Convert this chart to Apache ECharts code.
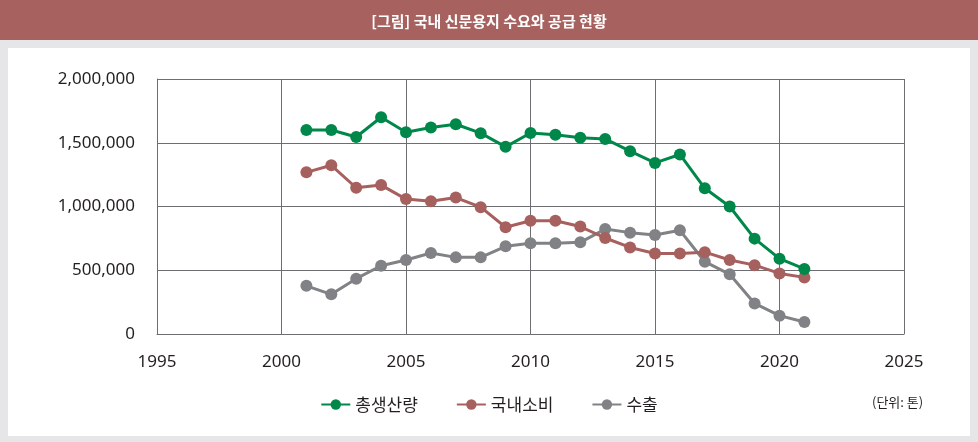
<!DOCTYPE html>
<html>
<head>
<meta charset="utf-8">
<script src="https://cdn.jsdelivr.net/npm/echarts@6/dist/echarts.min.js"></script>
<style>
  html, body { margin: 0; padding: 0; background: #e6e6e8; }
  #chart { width: 978px; height: 442px; }
</style>
</head>
<body>
<div id="chart"></div>
<script>
// 연도
var years = [2001, 2002, 2003, 2004, 2005, 2006, 2007, 2008, 2009, 2010, 2011,
             2012, 2013, 2014, 2015, 2016, 2017, 2018, 2019, 2020, 2021];

// 총생산량 (톤)
var production = [1600000, 1600000, 1545000, 1700000, 1583000, 1620000, 1645000, 1575000, 1468000, 1576000, 1563000,
                  1540000, 1530000, 1434000, 1342000, 1408000, 1143000, 1000000, 748000, 591000, 510000];

// 국내소비 (톤)
var domestic = [1268000, 1323000, 1147000, 1168000, 1058000, 1042000, 1070000, 995000, 837000, 888000, 888000,
                843000, 753000, 679000, 632000, 632000, 642000, 580000, 540000, 475000, 444000];

// 수출 (톤)
var exportAmt = [378000, 311000, 434000, 535000, 580000, 635000, 601000, 601000, 688000, 712000, 712000,
                 719000, 823000, 795000, 776000, 813000, 567000, 468000, 240000, 144000, 94000];

var seriesNames = ['총생산량', '국내소비', '수출'];
var seriesColors = ['#00884a', '#a6605d', '#808285'];

var xTicks = {min: 1995, max: 2025, step: 5};
var yTicks = {min: 0, max: 2000000, step: 500000};

var myChart = echarts.init(document.getElementById('chart'));

function pairs(values){
    return values.map(function(v, i){ return [years[i], v]; });
}

function makeSeries(idx, values, z){
    return {
        name: seriesNames[idx],
        type: 'line',
        data: pairs(values),
        symbol: 'circle',
        symbolSize: 12,
        z: z,
        lineStyle: {color: seriesColors[idx], width: 3},
        itemStyle: {color: seriesColors[idx]}
    };
}

var labelFont = 'Noto Sans, sans-serif';
var gridColor = '#6d6e71';

var option = {
    backgroundColor: '#e6e6e8',
    animation: false,
    graphic: [
        {type: 'rect', shape: {x: 0, y: 0, width: 978, height: 40}, style: {fill: '#a7625f'}, z: 0},
        {type: 'rect', shape: {x: 8, y: 48, width: 962, height: 388}, style: {fill: '#ffffff'}, z: 0},
        {type: 'text', left: 872, top: 396,
         style: {text: '(단위: 톤)', fill: '#231f20', font: '13px "Noto Sans CJK KR"'}, z: 10}
    ],
    title: {
        text: '[그림] 국내 신문용지 수요와 공급 현황',
        left: 'center',
        top: 9,
        textStyle: {color: '#ffffff', fontSize: 15, fontWeight: 'bold', fontFamily: 'Noto Sans CJK KR'}
    },
    legend: {
        data: seriesNames,
        left: 'center',
        top: 391,
        itemWidth: 29,
        itemHeight: 13,
        itemGap: 38,
        textStyle: {color: '#231f20', fontSize: 17, fontFamily: 'Noto Sans CJK KR'}
    },
    grid: {
        left: 157,
        right: 74,
        top: 79,
        bottom: 108,
        show: true,
        borderColor: gridColor,
        borderWidth: 1,
        backgroundColor: 'transparent'
    },
    xAxis: {
        type: 'value',
        min: xTicks.min,
        max: xTicks.max,
        interval: xTicks.step,
        axisLine: {show: true, lineStyle: {color: gridColor, width: 1}},
        axisTick: {show: false},
        splitLine: {show: true, lineStyle: {color: gridColor, width: 1}},
        axisLabel: {
            color: '#231f20', fontSize: 17, fontFamily: labelFont, margin: 20,
            formatter: function(v){ return String(v); }
        }
    },
    yAxis: {
        type: 'value',
        min: yTicks.min,
        max: yTicks.max,
        interval: yTicks.step,
        axisLine: {show: true, lineStyle: {color: gridColor, width: 1}},
        axisTick: {show: false},
        splitLine: {show: true, lineStyle: {color: gridColor, width: 1}},
        axisLabel: {
            color: '#231f20', fontSize: 17, fontFamily: labelFont, margin: 22,
            formatter: function(v){ return v.toLocaleString('en-US'); }
        }
    },
    series: [
        makeSeries(0, production, 5),
        makeSeries(1, domestic, 4),
        makeSeries(2, exportAmt, 3)
    ]
};

myChart.setOption(option);
</script>
</body>
</html>
